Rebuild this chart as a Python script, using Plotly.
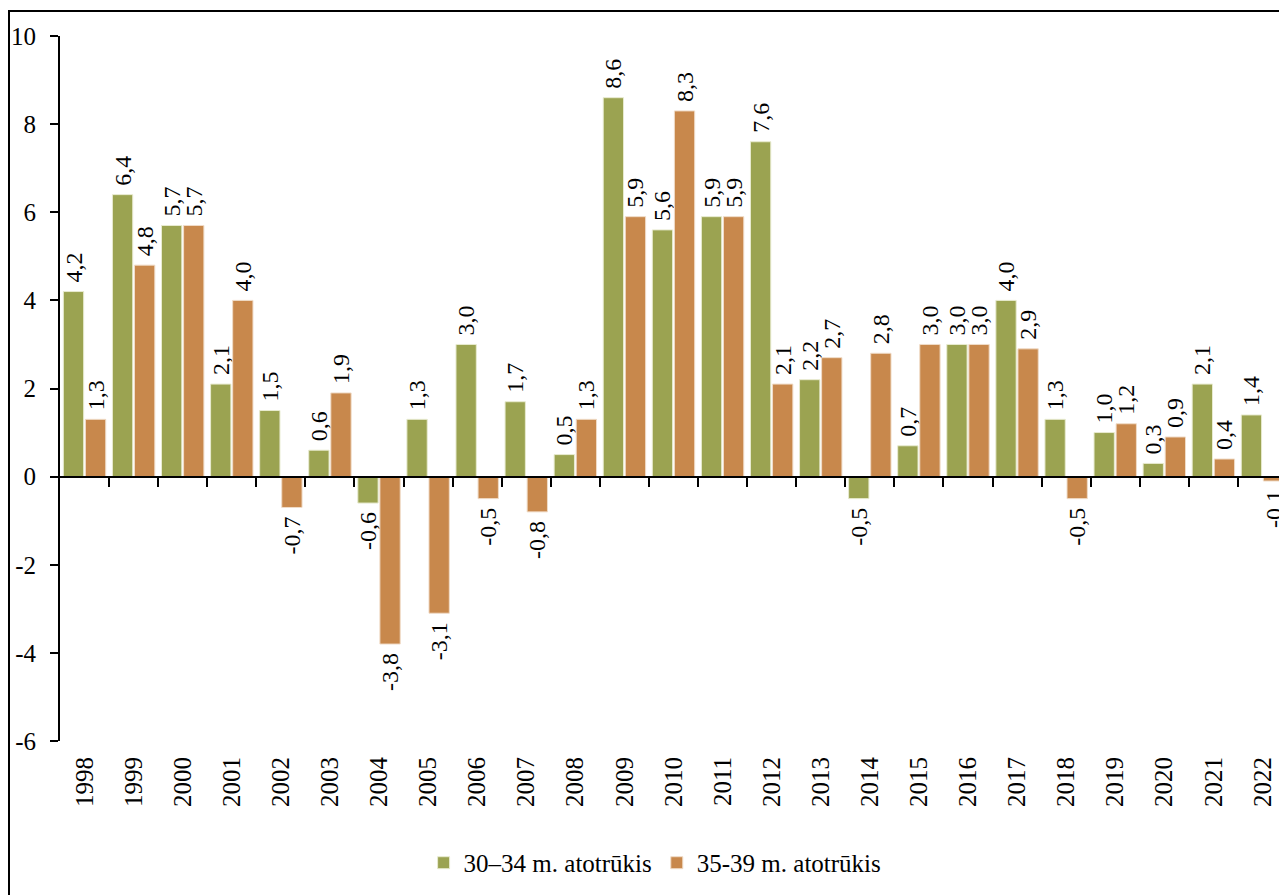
import plotly.graph_objects as go

years = [str(y) for y in range(1998, 2023)]
gap_30_34 = [4.2, 6.4, 5.7, 2.1, 1.5, 0.6, -0.6, 1.3, 3.0, 1.7, 0.5, 8.6, 5.6,
             5.9, 7.6, 2.2, -0.5, 0.7, 3.0, 4.0, 1.3, 1.0, 0.3, 2.1, 1.4]
gap_35_39 = [1.3, 4.8, 5.7, 4.0, -0.7, 1.9, -3.8, -3.1, -0.5, -0.8, 1.3, 5.9, 8.3,
             5.9, 2.1, 2.7, 2.8, 3.0, 3.0, 2.9, -0.5, 1.2, 0.9, 0.4, -0.1]
y_ticks = [-6, -4, -2, 0, 2, 4, 6, 8, 10]

FONT = "Liberation Serif, Times New Roman, serif"


def fmt(v):
    # rotated labels: pad on the side facing the bar
    s = f"{v:.1f}".replace(".", ",")
    return "\u00a0" + s if v >= 0 else s + "\u00a0"


fig = go.Figure()
fig.add_trace(go.Bar(x=years, y=gap_30_34, name="30\u201334 m. atotrūkis",
                     marker=dict(color="#9ba351", line=dict(color="#e8ebd0", width=1)),
                     text=[fmt(v) for v in gap_30_34], textposition="outside",
                     textangle=-90, constraintext="none",
                     textfont=dict(family=FONT, size=24, color="black"),
                     cliponaxis=False))
fig.add_trace(go.Bar(x=years, y=gap_35_39, name="35-39 m. atotrūkis",
                     marker=dict(color="#c8884c", line=dict(color="#f0dcc8", width=1)),
                     text=[fmt(v) for v in gap_35_39], textposition="outside",
                     textangle=-90, constraintext="none",
                     textfont=dict(family=FONT, size=24, color="black"),
                     cliponaxis=False))
# helper trace so the zero-line axis gets drawn
fig.add_trace(go.Scatter(x=[0], y=[0], xaxis="x2", mode="none",
                         showlegend=False, hoverinfo="skip"))

ymin, ymax = y_ticks[0], y_ticks[-1]
zero_pos = (0 - ymin) / (ymax - ymin)
n = len(years)

fig.update_layout(
    width=1279, height=887,
    margin=dict(l=52, r=0, t=28, b=154),
    paper_bgcolor="white", plot_bgcolor="white",
    font=dict(family=FONT, size=24, color="black"),
    barmode="group", bargap=0.1, bargroupgap=0.08,
    showlegend=True,
    legend=dict(orientation="h", x=0.485, xanchor="center", y=-0.173, yanchor="middle",
                font=dict(family=FONT, size=25), itemwidth=30, traceorder="normal"),
    xaxis=dict(type="category", range=[-0.5, n - 0.5], showline=False,
               ticks="outside", ticklen=5, tickcolor="rgba(0,0,0,0)",
               tickangle=-90, tickfont=dict(family=FONT, size=25), showgrid=False,
               zeroline=False),
    xaxis2=dict(overlaying="x", anchor="free", position=zero_pos,
                range=[-0.5, n - 0.5], showline=True, linecolor="black", linewidth=2,
                ticks="outside", ticklen=9, tickwidth=2, tickcolor="black",
                tickvals=[i + 0.5 for i in range(n - 1)], showticklabels=False,
                showgrid=False, zeroline=False),
    yaxis=dict(range=[ymin, ymax], tickvals=y_ticks,
               ticktext=[str(t) for t in y_ticks], showline=True, linecolor="black",
               linewidth=2, ticks="outside", ticklen=8, tickwidth=2, tickcolor="black",
               ticklabelstandoff=9,
               showgrid=False, zeroline=False, tickfont=dict(family=FONT, size=25)),
    shapes=[dict(type="rect", xref="paper", yref="paper",
                 x0=-51 / 1227, x1=1.05, y0=-0.4, y1=1 + 25 / 705,
                 line=dict(color="black", width=2), fillcolor="rgba(0,0,0,0)")],
)

fig.write_html("out.html")
